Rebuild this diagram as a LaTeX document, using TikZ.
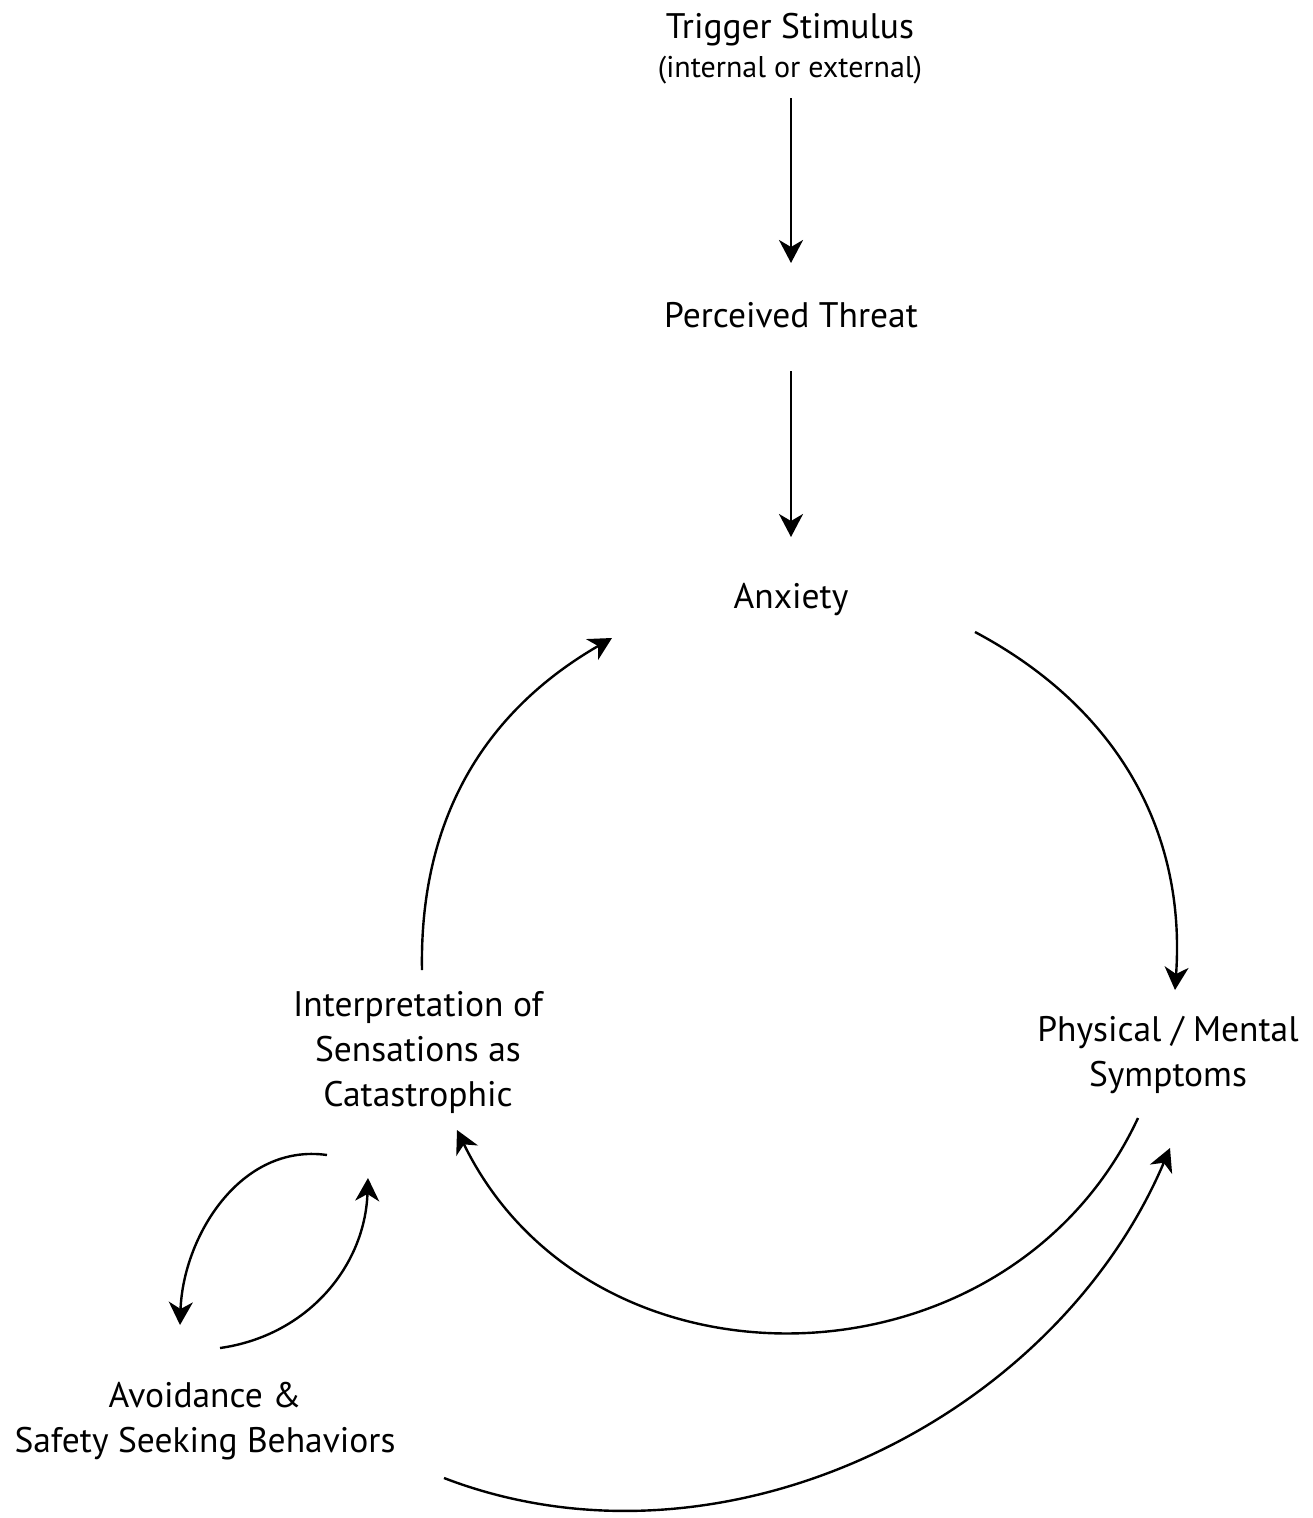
\documentclass[tikz,border=0pt]{standalone}
\usepackage{fontspec}
\setmainfont{PT Sans}
\usetikzlibrary{arrows.meta}

\tikzset{
  lbl/.style={align=center, inner sep=0pt, font=\fontsize{35.5}{45}\selectfont},
  link/.style={line width=2.4pt, -{Stealth[length=23pt,width=24pt,inset=7pt]}},
}

\begin{document}
\begin{tikzpicture}[x=1pt,y=-1pt]

\useasboundingbox (0,0) rectangle (1312,1518);

% the chain at the top
\node[lbl] (trig) at (790,49) {Trigger Stimulus\\[-6pt]{\fontsize{30}{34}\selectfont (internal or external)}};
\node[lbl] (thr) at (791,315) {Perceived Threat};
\node[lbl] (anx) at (791,600) {Anxiety};

% the cycle
\node[lbl] (phys) at (1168,1055) {Physical / Mental\\Symptoms};
\node[lbl] (interp) at (418,1052) {Interpretation of\\Sensations as\\Catastrophic};
\node[lbl] (avoid) at (205,1421) {Avoidance \&\\Safety Seeking Behaviors};

\draw[link] ([shift={(1,49)}]trig.center) -- ([shift={(0,-52)}]thr.center);
\draw[link] ([shift={(0,56)}]thr.center) -- ([shift={(0,-63)}]anx.center);

\draw[link] ([shift={(184,32)}]anx.center) to[out=-28,in=86] ([shift={(7,-65)}]phys.center);
\draw[link] ([shift={(-30,63)}]phys.center) to[out=-115,in=-64,looseness=1.15] ([shift={(39,78)}]interp.center);
\draw[link] ([shift={(4,-82)}]interp.center) to[out=91,in=210] ([shift={(-179,38)}]anx.center);

% loop with the behaviours
\draw[link] ([shift={(-91,103)}]interp.center) to[out=172,in=88] ([shift={(-25,-96)}]avoid.center);
\draw[link] ([shift={(15,-73)}]avoid.center) to[out=8,in=-92] ([shift={(-50,126)}]interp.center);
\draw[link] ([shift={(239,57)}]avoid.center) to[out=-21,in=-113,looseness=0.95] ([shift={(2,93)}]phys.center);

\end{tikzpicture}
\end{document}
